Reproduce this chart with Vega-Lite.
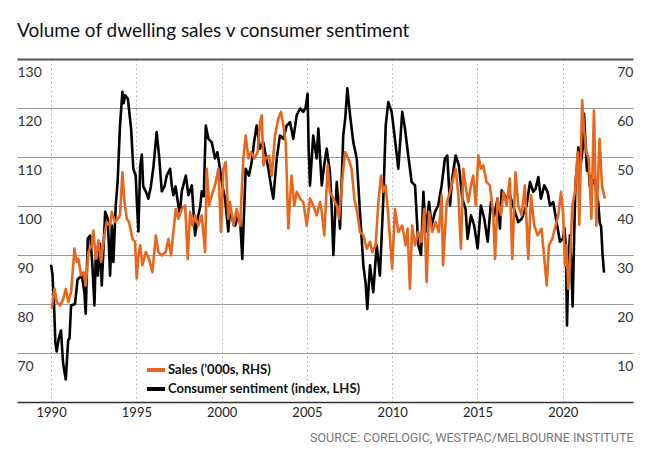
{
  "$schema": "https://vega.github.io/schema/vega-lite/v6.json",
  "width": 616,
  "height": 343,
  "autosize": {"type": "none"},
  "padding": {"left": 17, "top": 59, "right": 21, "bottom": 55},
  "background": "white",
  "title": {"text": "Volume of dwelling sales v consumer sentiment", "anchor": "start", "frame": "group", "offset": 18, "fontSize": 19, "font": "Lato", "fontWeight": "normal", "color": "#111"},
  "config": {"view": {"stroke": null}, "font": "Lato"},
  "datasets": {
    "sent": [
      {"t":1990.0,"v":88},{"t":1990.08,"v":86},{"t":1990.17,"v":80},{"t":1990.25,"v":72},{"t":1990.33,"v":70.3},{"t":1990.45,"v":73},{"t":1990.58,"v":74.6},{"t":1990.7,"v":68},{"t":1990.86,"v":64.6},{"t":1991.0,"v":72.6},{"t":1991.08,"v":73},{"t":1991.17,"v":79.7},{"t":1991.4,"v":80},{"t":1991.55,"v":85},{"t":1991.8,"v":85.8},{"t":1991.95,"v":82.5},{"t":1992.03,"v":78},{"t":1992.15,"v":93.3},{"t":1992.29,"v":94},{"t":1992.42,"v":88},{"t":1992.54,"v":79.7},{"t":1992.62,"v":90},{"t":1992.74,"v":85.8},{"t":1992.87,"v":92.3},{"t":1992.97,"v":83.8},{"t":1993.08,"v":92},{"t":1993.17,"v":98.8},{"t":1993.32,"v":97.4},{"t":1993.46,"v":85.8},{"t":1993.56,"v":96},{"t":1993.65,"v":88.6},{"t":1993.79,"v":100.1},{"t":1993.9,"v":104.9},{"t":1994.04,"v":116.4},{"t":1994.18,"v":123.3},{"t":1994.26,"v":121},{"t":1994.34,"v":122.6},{"t":1994.5,"v":121.9},{"t":1994.69,"v":115.8},{"t":1994.82,"v":107.6},{"t":1994.96,"v":106.2},{"t":1995.04,"v":100},{"t":1995.12,"v":94.8},{"t":1995.22,"v":108},{"t":1995.32,"v":110.5},{"t":1995.4,"v":104},{"t":1995.55,"v":103},{"t":1995.7,"v":101.5},{"t":1995.85,"v":104},{"t":1996.0,"v":108},{"t":1996.19,"v":115.1},{"t":1996.33,"v":110.3},{"t":1996.49,"v":103},{"t":1996.65,"v":104},{"t":1996.78,"v":106.2},{"t":1996.98,"v":107.6},{"t":1997.08,"v":104},{"t":1997.17,"v":102.2},{"t":1997.3,"v":104},{"t":1997.46,"v":100.1},{"t":1997.55,"v":98.5},{"t":1997.66,"v":103},{"t":1997.9,"v":106.2},{"t":1998.05,"v":102.2},{"t":1998.25,"v":104.2},{"t":1998.44,"v":94},{"t":1998.63,"v":98.1},{"t":1998.75,"v":100},{"t":1998.83,"v":103},{"t":1998.95,"v":102},{"t":1999.07,"v":116.4},{"t":1999.22,"v":113.7},{"t":1999.42,"v":113},{"t":1999.61,"v":109.7},{"t":1999.75,"v":111},{"t":1999.9,"v":107.6},{"t":2000.05,"v":104},{"t":2000.2,"v":101.5},{"t":2000.39,"v":94.8},{"t":2000.49,"v":99.4},{"t":2000.65,"v":97},{"t":2000.79,"v":96},{"t":2000.95,"v":98},{"t":2001.08,"v":97.4},{"t":2001.21,"v":89.2},{"t":2001.41,"v":107.6},{"t":2001.6,"v":106.2},{"t":2001.76,"v":109},{"t":2001.9,"v":113},{"t":2002.05,"v":116.4},{"t":2002.25,"v":111.7},{"t":2002.44,"v":113},{"t":2002.6,"v":110},{"t":2002.74,"v":107.6},{"t":2002.9,"v":104},{"t":2003.03,"v":101.5},{"t":2003.23,"v":109.7},{"t":2003.42,"v":114.4},{"t":2003.62,"v":113.7},{"t":2003.81,"v":116.4},{"t":2004.01,"v":117.1},{"t":2004.2,"v":113.7},{"t":2004.4,"v":118.5},{"t":2004.6,"v":119.9},{"t":2004.79,"v":119.2},{"t":2004.92,"v":120},{"t":2005.04,"v":122.9},{"t":2005.1,"v":112},{"t":2005.18,"v":104.2},{"t":2005.37,"v":114.4},{"t":2005.57,"v":109.7},{"t":2005.67,"v":115.8},{"t":2005.87,"v":104.2},{"t":2006.0,"v":108},{"t":2006.16,"v":111.7},{"t":2006.35,"v":106.9},{"t":2006.45,"v":100},{"t":2006.55,"v":90},{"t":2006.65,"v":98},{"t":2006.75,"v":104.9},{"t":2006.94,"v":95.4},{"t":2007.13,"v":114.4},{"t":2007.25,"v":118},{"t":2007.37,"v":124},{"t":2007.53,"v":118.5},{"t":2007.72,"v":113},{"t":2007.92,"v":109.7},{"t":2008.11,"v":98.8},{"t":2008.31,"v":87.9},{"t":2008.45,"v":84},{"t":2008.54,"v":79},{"t":2008.7,"v":87.9},{"t":2008.89,"v":82.4},{"t":2009.09,"v":92},{"t":2009.28,"v":85.8},{"t":2009.48,"v":101.5},{"t":2009.62,"v":116.4},{"t":2009.77,"v":121.2},{"t":2009.97,"v":119.2},{"t":2010.16,"v":113.7},{"t":2010.36,"v":107.6},{"t":2010.59,"v":119.2},{"t":2010.75,"v":115.8},{"t":2010.94,"v":110.3},{"t":2011.14,"v":104.9},{"t":2011.34,"v":104.2},{"t":2011.53,"v":92},{"t":2011.69,"v":90},{"t":2011.83,"v":102.9},{"t":2011.96,"v":94.7},{"t":2012.16,"v":100.8},{"t":2012.31,"v":96},{"t":2012.51,"v":98.8},{"t":2012.7,"v":100.1},{"t":2012.9,"v":104.2},{"t":2013.09,"v":109.7},{"t":2013.23,"v":110.3},{"t":2013.39,"v":100.1},{"t":2013.52,"v":105.6},{"t":2013.72,"v":110.3},{"t":2013.91,"v":108.3},{"t":2014.11,"v":101.5},{"t":2014.3,"v":99.4},{"t":2014.42,"v":93.3},{"t":2014.62,"v":98.1},{"t":2014.81,"v":96},{"t":2015.01,"v":91.3},{"t":2015.2,"v":100.1},{"t":2015.4,"v":97.4},{"t":2015.6,"v":92.7},{"t":2015.79,"v":100.8},{"t":2015.98,"v":98},{"t":2016.18,"v":101.5},{"t":2016.32,"v":95.4},{"t":2016.42,"v":103.2},{"t":2016.71,"v":101.5},{"t":2016.9,"v":102.2},{"t":2017.2,"v":98.8},{"t":2017.39,"v":96.7},{"t":2017.59,"v":97.4},{"t":2017.88,"v":100.1},{"t":2018.08,"v":104.9},{"t":2018.27,"v":102.9},{"t":2018.41,"v":103.5},{"t":2018.57,"v":105.9},{"t":2018.72,"v":101.5},{"t":2018.92,"v":104.2},{"t":2019.11,"v":102.9},{"t":2019.25,"v":100.1},{"t":2019.44,"v":100.8},{"t":2019.64,"v":96.7},{"t":2019.84,"v":92.7},{"t":2020.02,"v":93.4},{"t":2020.1,"v":95.5},{"t":2020.18,"v":91.9},{"t":2020.25,"v":75.6},{"t":2020.33,"v":88},{"t":2020.42,"v":94},{"t":2020.5,"v":87.9},{"t":2020.58,"v":79.5},{"t":2020.67,"v":93.8},{"t":2020.75,"v":105},{"t":2020.83,"v":107.7},{"t":2020.92,"v":112},{"t":2021.0,"v":107},{"t":2021.08,"v":109.1},{"t":2021.17,"v":111.8},{"t":2021.25,"v":118.8},{"t":2021.33,"v":113.1},{"t":2021.42,"v":107.2},{"t":2021.5,"v":108.8},{"t":2021.58,"v":104.1},{"t":2021.67,"v":106.2},{"t":2021.75,"v":104.6},{"t":2021.83,"v":105.3},{"t":2021.92,"v":104.3},{"t":2022.0,"v":102.2},{"t":2022.08,"v":100.8},{"t":2022.17,"v":96.6},{"t":2022.25,"v":95.8},{"t":2022.33,"v":90.4},{"t":2022.42,"v":86.4}
    ],
    "sales": [
      {"t":1990.04,"v":19},{"t":1990.2,"v":23.1},{"t":1990.33,"v":20.4},{"t":1990.53,"v":19.7},{"t":1990.72,"v":21.1},{"t":1990.86,"v":23.1},{"t":1991.01,"v":20.4},{"t":1991.17,"v":22.4},{"t":1991.37,"v":31.3},{"t":1991.5,"v":28.6},{"t":1991.6,"v":29.2},{"t":1991.76,"v":25.8},{"t":1991.9,"v":26.5},{"t":1992.03,"v":23.8},{"t":1992.19,"v":30.6},{"t":1992.38,"v":32},{"t":1992.48,"v":35},{"t":1992.62,"v":29.2},{"t":1992.77,"v":33},{"t":1992.93,"v":28.6},{"t":1993.12,"v":34},{"t":1993.26,"v":36.7},{"t":1993.46,"v":36},{"t":1993.56,"v":38.8},{"t":1993.75,"v":36.7},{"t":1993.91,"v":37.4},{"t":1994.04,"v":38.1},{"t":1994.18,"v":46.9},{"t":1994.3,"v":40.8},{"t":1994.44,"v":37.4},{"t":1994.57,"v":36.7},{"t":1994.77,"v":33.3},{"t":1994.92,"v":32.7},{"t":1995.02,"v":25.2},{"t":1995.12,"v":30},{"t":1995.22,"v":32},{"t":1995.35,"v":27.9},{"t":1995.55,"v":30.6},{"t":1995.74,"v":29.2},{"t":1995.94,"v":26.5},{"t":1996.14,"v":34},{"t":1996.29,"v":30.6},{"t":1996.49,"v":29.9},{"t":1996.72,"v":30.6},{"t":1996.88,"v":33.3},{"t":1997.03,"v":29.9},{"t":1997.17,"v":34.7},{"t":1997.31,"v":39.4},{"t":1997.46,"v":37.4},{"t":1997.66,"v":39.4},{"t":1997.86,"v":40.1},{"t":1998.01,"v":29.2},{"t":1998.15,"v":38.8},{"t":1998.28,"v":36},{"t":1998.44,"v":38.1},{"t":1998.63,"v":36},{"t":1998.83,"v":38.1},{"t":1999.03,"v":30.6},{"t":1999.13,"v":47.6},{"t":1999.26,"v":40.1},{"t":1999.42,"v":42.2},{"t":1999.61,"v":44.2},{"t":1999.81,"v":47.6},{"t":1999.96,"v":34.7},{"t":2000.1,"v":47.6},{"t":2000.24,"v":49},{"t":2000.39,"v":37.4},{"t":2000.49,"v":40.8},{"t":2000.69,"v":36},{"t":2000.88,"v":39.4},{"t":2001.08,"v":36},{"t":2001.27,"v":49.7},{"t":2001.41,"v":54.4},{"t":2001.57,"v":49.7},{"t":2001.72,"v":51},{"t":2001.92,"v":49.7},{"t":2002.11,"v":51},{"t":2002.25,"v":57.1},{"t":2002.35,"v":58.5},{"t":2002.45,"v":48.3},{"t":2002.58,"v":49.7},{"t":2002.78,"v":50.3},{"t":2002.94,"v":46.2},{"t":2003.13,"v":54.4},{"t":2003.32,"v":57.8},{"t":2003.48,"v":59.2},{"t":2003.62,"v":56.4},{"t":2003.76,"v":53},{"t":2003.91,"v":35.4},{"t":2004.1,"v":46.2},{"t":2004.26,"v":40.1},{"t":2004.4,"v":42.9},{"t":2004.6,"v":41.5},{"t":2004.79,"v":40.8},{"t":2004.99,"v":36},{"t":2005.18,"v":41.5},{"t":2005.37,"v":40.1},{"t":2005.57,"v":38.1},{"t":2005.77,"v":40.8},{"t":2005.87,"v":38.8},{"t":2006.02,"v":34},{"t":2006.22,"v":48.3},{"t":2006.35,"v":42.9},{"t":2006.55,"v":41.5},{"t":2006.75,"v":40.1},{"t":2006.88,"v":37.4},{"t":2007.08,"v":45.6},{"t":2007.24,"v":51},{"t":2007.43,"v":49.7},{"t":2007.62,"v":47.6},{"t":2007.78,"v":41.5},{"t":2007.98,"v":38.1},{"t":2008.11,"v":34.7},{"t":2008.31,"v":34},{"t":2008.51,"v":31.3},{"t":2008.7,"v":32.7},{"t":2008.83,"v":30.6},{"t":2009.03,"v":32},{"t":2009.19,"v":40.8},{"t":2009.34,"v":46.2},{"t":2009.48,"v":42.9},{"t":2009.62,"v":44.2},{"t":2009.77,"v":38.1},{"t":2010.0,"v":27.2},{"t":2010.16,"v":39.4},{"t":2010.36,"v":34.7},{"t":2010.59,"v":36},{"t":2010.79,"v":32},{"t":2010.9,"v":35.4},{"t":2011.04,"v":23.1},{"t":2011.17,"v":36},{"t":2011.34,"v":32},{"t":2011.53,"v":34.7},{"t":2011.72,"v":32.7},{"t":2011.88,"v":39.4},{"t":2012.02,"v":24.5},{"t":2012.16,"v":38.8},{"t":2012.35,"v":34.7},{"t":2012.55,"v":36.7},{"t":2012.74,"v":34.7},{"t":2012.9,"v":42.2},{"t":2012.98,"v":27.9},{"t":2013.2,"v":40.8},{"t":2013.39,"v":42.9},{"t":2013.58,"v":45.6},{"t":2013.72,"v":47.6},{"t":2013.88,"v":42.2},{"t":2014.03,"v":31.3},{"t":2014.17,"v":47.6},{"t":2014.3,"v":44.2},{"t":2014.46,"v":40.8},{"t":2014.62,"v":44.2},{"t":2014.75,"v":46.2},{"t":2014.9,"v":40.1},{"t":2015.05,"v":50.3},{"t":2015.2,"v":47.6},{"t":2015.34,"v":48.3},{"t":2015.53,"v":44.9},{"t":2015.73,"v":44.2},{"t":2015.93,"v":38.1},{"t":2016.03,"v":29.2},{"t":2016.18,"v":41.5},{"t":2016.38,"v":38.1},{"t":2016.52,"v":42.9},{"t":2016.71,"v":40.1},{"t":2016.9,"v":45.6},{"t":2017.04,"v":29.2},{"t":2017.23,"v":46.9},{"t":2017.39,"v":40.1},{"t":2017.59,"v":38.1},{"t":2017.78,"v":44.2},{"t":2017.98,"v":29.2},{"t":2018.14,"v":42.2},{"t":2018.33,"v":36},{"t":2018.53,"v":34},{"t":2018.76,"v":35.4},{"t":2018.92,"v":29.2},{"t":2019.06,"v":23.8},{"t":2019.19,"v":32},{"t":2019.39,"v":33.3},{"t":2019.58,"v":36},{"t":2019.74,"v":38.1},{"t":2019.9,"v":42.9},{"t":2020.03,"v":38.1},{"t":2020.13,"v":27.9},{"t":2020.22,"v":32},{"t":2020.32,"v":23.1},{"t":2020.42,"v":27.9},{"t":2020.56,"v":40.1},{"t":2020.72,"v":42.9},{"t":2020.88,"v":51},{"t":2020.97,"v":36.2},{"t":2021.14,"v":61.6},{"t":2021.26,"v":55.1},{"t":2021.39,"v":51},{"t":2021.53,"v":49.7},{"t":2021.68,"v":37.4},{"t":2021.83,"v":59.5},{"t":2021.97,"v":36},{"t":2022.16,"v":53.7},{"t":2022.3,"v":44.2},{"t":2022.47,"v":41.5}
    ]
  },
  "layer": [
    {
      "data": {"name": "sent"},
      "mark": {"type": "line", "strokeWidth": 2.6, "strokeJoin": "round"},
      "encoding": {
        "x": {"field": "t", "type": "quantitative",
          "scale": {"domain": [1988, 2024.12], "nice": false, "zero": false},
          "axis": {"values": [1990, 1995, 2000, 2005, 2010, 2015, 2020], "format": "d", "grid": true, "gridDash": [1.5, 3], "gridColor": "#aaa", "gridWidth": 1, "ticks": false, "tickSize": 0, "domain": true, "domainColor": "#333", "domainWidth": 1.5, "labelFontSize": 13, "labelColor": "#222", "labelPadding": 4, "labelFlush": false,
            "title": "SOURCE: CORELOGIC, WESTPAC/MELBOURNE INSTITUTE", "titleAnchor": "end", "titleFont": "Liberation Sans Narrow, Roboto", "titleFontSize": 12.5, "titleFontWeight": "normal", "titleColor": "#777", "titlePadding": 12}},
        "y": {"field": "v", "type": "quantitative",
          "scale": {"domain": [60, 130], "nice": false, "zero": false},
          "axis": {"orient": "left", "values": [70, 80, 90, 100, 110, 120, 130], "grid": true,
            "gridColor": {"condition": {"test": "datum.value == 130", "value": "#555"}, "value": "#9a9a9a"},
            "gridWidth": {"condition": {"test": "datum.value == 130", "value": 2}, "value": 1},
            "domain": false, "ticks": false, "tickSize": 0, "labelAlign": "left", "labelBaseline": "top", "labelPadding": 0, "labelOffset": 6, "labelFlush": false, "labelFontSize": 14, "labelColor": "#333", "title": null}},
        "color": {"datum": "Consumer sentiment (index, LHS)", "type": "nominal",
          "scale": {"domain": ["Sales (’000s, RHS)", "Consumer sentiment (index, LHS)"], "range": ["#e8671c", "#000000"]},
          "legend": {"orient": "none", "legendX": 128, "legendY": 300, "title": null, "symbolType": "stroke", "symbolStrokeWidth": 4, "symbolSize": 324, "labelFontSize": 13, "labelFontWeight": "bold", "labelColor": "#111", "labelOffset": 1, "labelLimit": 400, "rowPadding": 0, "padding": 0}}
      }
    },
    {
      "data": {"name": "sales"},
      "mark": {"type": "line", "strokeWidth": 2.6, "strokeJoin": "round"},
      "encoding": {
        "x": {"field": "t", "type": "quantitative"},
        "y": {"field": "v", "type": "quantitative",
          "scale": {"domain": [0, 70], "nice": false, "zero": false},
          "axis": {"orient": "right", "values": [10, 20, 30, 40, 50, 60, 70], "grid": false, "domain": false, "ticks": false, "tickSize": 0, "labelAlign": "right", "labelBaseline": "top", "labelPadding": 0, "labelOffset": 6, "labelFlush": false, "labelFontSize": 14, "labelColor": "#333", "title": null}},
        "color": {"datum": "Sales (’000s, RHS)", "type": "nominal"}
      }
    }
  ],
  "resolve": {"scale": {"y": "independent"}}
}
